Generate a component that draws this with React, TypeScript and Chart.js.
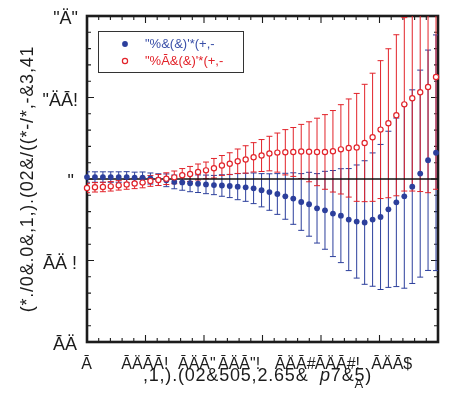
import React, { useEffect, useRef } from "react";
import { Chart, registerables } from "chart.js";

Chart.register(...registerables);

// Bin positions along x
const X_VALUES = [
  0, 0.00068, 0.00136, 0.00203, 0.00271, 0.00339, 0.00407, 0.00475, 0.00542, 0.0061,
  0.00678, 0.00746, 0.00814, 0.00881, 0.00949, 0.01017, 0.01085, 0.01153, 0.0122, 0.01288,
  0.01356, 0.01424, 0.01492, 0.01559, 0.01627, 0.01695, 0.01763, 0.01831, 0.01898, 0.01966,
  0.02034, 0.02102, 0.0217, 0.02237, 0.02305, 0.02373, 0.02441, 0.02509, 0.02576, 0.02644,
  0.02712, 0.0278, 0.02848, 0.02915, 0.02983,
];

// Filled-marker series
const BLUE_VALUES = [
  1.0012, 1.0012, 1.0012, 1.0012, 1.0012, 1.0012, 1.0009, 1.0009, 1.0003, 0.9996,
  0.9992, 0.9982, 0.9979, 0.9974, 0.9971, 0.9967, 0.9963, 0.996, 0.9957, 0.9953,
  0.9949, 0.9943, 0.9931, 0.992, 0.9908, 0.9894, 0.988, 0.9859, 0.9845, 0.982,
  0.9808, 0.9788, 0.9775, 0.9751, 0.9739, 0.9733, 0.9751, 0.9767, 0.9814, 0.9857,
  0.9894, 0.9953, 1.0033, 1.0115, 1.0161,
];
const BLUE_ERRORS = [
  0.0032, 0.0032, 0.0032, 0.0032, 0.0032, 0.0033, 0.0033, 0.0034, 0.0034, 0.0036,
  0.0039, 0.0042, 0.0048, 0.0052, 0.0054, 0.0057, 0.0059, 0.0066, 0.0071, 0.008,
  0.0086, 0.0094, 0.0102, 0.0112, 0.0125, 0.0141, 0.0158, 0.0174, 0.0196, 0.0213,
  0.0239, 0.0264, 0.0288, 0.0313, 0.0347, 0.0379, 0.0409, 0.0445, 0.0479, 0.0517,
  0.0564, 0.0594, 0.0635, 0.0676, 0.0723,
];

// Open-marker series
const RED_VALUES = [
  0.9945, 0.9949, 0.9951, 0.9955, 0.9961, 0.9967, 0.9972, 0.9978, 0.9988, 0.9994,
  1.0002, 1.001, 1.0023, 1.0031, 1.0043, 1.0053, 1.0066, 1.0083, 1.0094, 1.0109,
  1.012, 1.0133, 1.0144, 1.0156, 1.0162, 1.0164, 1.0166, 1.0169, 1.0167, 1.0166,
  1.0166, 1.017, 1.0182, 1.019, 1.0194, 1.0221, 1.0256, 1.0303, 1.0342, 1.0391,
  1.0458, 1.0495, 1.0532, 1.0564, 1.0626,
];
const RED_ERRORS = [
  0.0029, 0.0029, 0.0029, 0.0029, 0.0029, 0.003, 0.0031, 0.0032, 0.0033, 0.0034,
  0.0036, 0.0039, 0.0041, 0.0046, 0.0049, 0.0051, 0.006, 0.0061, 0.0067, 0.0075,
  0.0084, 0.009, 0.0098, 0.0106, 0.012, 0.0139, 0.015, 0.0166, 0.0184, 0.0207,
  0.0229, 0.025, 0.0274, 0.0301, 0.0331, 0.036, 0.0393, 0.0423, 0.0457, 0.0494,
  0.0532, 0.0569, 0.0609, 0.0648, 0.0689,
];

const X_TICK_VALUES = [0, 0.005, 0.01, 0.015, 0.02, 0.025, 0.03];
const X_TICK_LABELS = ["Ā", "ĀÄĀĀ!", 'ĀÄĀ"', 'ĀÄĀ"!', "ĀÄĀ#", "ĀÄĀ#!", "ĀÄĀ$"];
const Y_TICK_VALUES = [1.1, 1.05, 1, 0.95, 0.9];
const Y_TICK_LABELS = ['"Ä"', '"ÄĀ!', '"', "ĀÄ !", "ĀÄ"];
const SERIES_LABELS = ['"%&(&)\'*(+,-', '"%Ā&(&)\'*(+,-'];
const Y_TITLE = "(*./0&.0&,1,).(02&/((*-/*,-&3,41";
const X_TITLE = ",1,).(02&505,2.65&";
const X_TITLE_VAR = "p";
const X_TITLE_TAIL = "7&5)";
const X_TITLE_SUB = "A";

// Label placement tweaks (px) relative to each tick
const X_LABEL_SHIFT = [-5.7, -24.2, -26, -44.5, -46.3, -64.8, -66.7];
const Y_LABEL_SHIFT = [0, 0, -4, -1, -1];

const BLUE = "#2c3f9c";
const RED = "#e2232a";
const INK = "#1c1c1c";
const FONT = "'Liberation Sans', Arial, Helvetica, sans-serif";

function drawErrorBars(ctx: CanvasRenderingContext2D, chart: any, values: number[], errors: number[], color: string) {
  const xs = chart.scales.x;
  const ys = chart.scales.y;
  ctx.strokeStyle = color;
  ctx.lineWidth = 1;
  for (let i = 0; i < X_VALUES.length; i++) {
    const x = xs.getPixelForValue(X_VALUES[i]);
    const yTop = ys.getPixelForValue(values[i] + errors[i]);
    const yBot = ys.getPixelForValue(values[i] - errors[i]);
    ctx.beginPath();
    ctx.moveTo(x, yTop);
    ctx.lineTo(x, yBot);
    ctx.moveTo(x - 3, yTop);
    ctx.lineTo(x + 3, yTop);
    ctx.moveTo(x - 3, yBot);
    ctx.lineTo(x + 3, yBot);
    ctx.stroke();
  }
}

const decorPlugin = {
  id: "plotDecor",
  beforeDatasetsDraw(chart: any) {
    const { ctx, chartArea: a } = chart;
    const xs = chart.scales.x;
    const ys = chart.scales.y;
    ctx.save();

    // frame
    ctx.strokeStyle = INK;
    ctx.lineWidth = 2.6;
    ctx.strokeRect(a.left, a.top, a.right - a.left, a.bottom - a.top);

    // inward ticks on all four sides
    ctx.lineWidth = 1.1;
    ctx.beginPath();
    for (let k = 0; k <= 30; k++) {
      const x = xs.getPixelForValue(k * 0.001);
      const len = k % 5 === 0 ? 7 : 4;
      ctx.moveTo(x, a.bottom);
      ctx.lineTo(x, a.bottom - len);
      ctx.moveTo(x, a.top);
      ctx.lineTo(x, a.top + len);
    }
    for (let k = 0; k <= 20; k++) {
      const y = ys.getPixelForValue(0.9 + k * 0.01);
      const len = k % 5 === 0 ? 7 : 4;
      ctx.moveTo(a.left, y);
      ctx.lineTo(a.left + len, y);
      ctx.moveTo(a.right, y);
      ctx.lineTo(a.right - len, y);
    }
    ctx.stroke();

    // error bars, clipped to the plot area
    ctx.save();
    ctx.beginPath();
    ctx.rect(a.left, a.top, a.right - a.left, a.bottom - a.top);
    ctx.clip();
    drawErrorBars(ctx, chart, BLUE_VALUES, BLUE_ERRORS, BLUE);
    drawErrorBars(ctx, chart, RED_VALUES, RED_ERRORS, RED);
    ctx.restore();

    // reference line at unity
    const y1 = ys.getPixelForValue(1);
    ctx.strokeStyle = "#111";
    ctx.lineWidth = 1.3;
    ctx.beginPath();
    ctx.moveTo(a.left, y1);
    ctx.lineTo(a.right, y1);
    ctx.stroke();

    // tick labels
    ctx.fillStyle = INK;
    ctx.font = `16px ${FONT}`;
    ctx.textBaseline = "alphabetic";
    ctx.textAlign = "left";
    X_TICK_VALUES.forEach((v, i) => {
      ctx.fillText(X_TICK_LABELS[i], xs.getPixelForValue(v) + X_LABEL_SHIFT[i], a.bottom + 27);
    });
    ctx.font = `18px ${FONT}`;
    ctx.textAlign = "right";
    Y_TICK_VALUES.forEach((v, i) => {
      ctx.fillText(Y_TICK_LABELS[i], a.left - 9 + Y_LABEL_SHIFT[i], ys.getPixelForValue(v) + 8);
    });

    // axis titles
    (ctx as any).letterSpacing = "0.8px";
    ctx.font = `18px ${FONT}`;
    ctx.save();
    ctx.translate(28, (a.top + a.bottom) / 2);
    ctx.rotate(-Math.PI / 2);
    ctx.textAlign = "center";
    ctx.textBaseline = "middle";
    ctx.fillText(Y_TITLE, 0, 0);
    ctx.restore();

    ctx.textAlign = "left";
    const head = X_TITLE + "  ";
    ctx.font = `18px ${FONT}`;
    const wHead = ctx.measureText(head).width;
    ctx.font = `italic 18px ${FONT}`;
    const wVar = ctx.measureText(X_TITLE_VAR).width;
    ctx.font = `18px ${FONT}`;
    const wTail = ctx.measureText(X_TITLE_TAIL).width;
    const wPre = ctx.measureText(X_TITLE_TAIL.slice(0, 2)).width;
    const total = wHead + wVar + wTail;
    const x0 = (a.left + a.right) / 2 - 5 - total / 2;
    const base = a.bottom + 39;
    ctx.fillText(head, x0, base);
    ctx.font = `italic 18px ${FONT}`;
    ctx.fillText(X_TITLE_VAR, x0 + wHead, base);
    ctx.font = `18px ${FONT}`;
    ctx.fillText(X_TITLE_TAIL, x0 + wHead + wVar, base);
    (ctx as any).letterSpacing = "0px";
    ctx.font = `13px ${FONT}`;
    ctx.fillText(X_TITLE_SUB, x0 + wHead + wVar + wPre, base + 7);

    ctx.restore();
  },
  afterDraw(chart: any) {
    const { ctx, chartArea: a } = chart;
    ctx.save();
    const bx = a.left + 11.5;
    const by = a.top + 15.5;
    ctx.fillStyle = "#fff";
    ctx.fillRect(bx, by, 145, 41);
    ctx.strokeStyle = "#333";
    ctx.lineWidth = 1;
    ctx.strokeRect(bx, by, 145, 41);

    ctx.beginPath();
    ctx.arc(bx + 26.5, by + 12.5, 2.9, 0, Math.PI * 2);
    ctx.fillStyle = BLUE;
    ctx.fill();

    ctx.beginPath();
    ctx.arc(bx + 26.5, by + 29.5, 2.6, 0, Math.PI * 2);
    ctx.fillStyle = "#fff";
    ctx.fill();
    ctx.strokeStyle = RED;
    ctx.lineWidth = 1.2;
    ctx.stroke();

    ctx.font = `13px ${FONT}`;
    ctx.textAlign = "left";
    ctx.textBaseline = "middle";
    ctx.fillStyle = "#3a4fa8";
    ctx.fillText(SERIES_LABELS[0], bx + 46.5, by + 13);
    ctx.fillStyle = RED;
    ctx.fillText(SERIES_LABELS[1], bx + 46.5, by + 30);
    ctx.restore();
  },
};

export default function App() {
  const canvasRef = useRef<HTMLCanvasElement | null>(null);

  useEffect(() => {
    const canvas = canvasRef.current;
    if (!canvas) return;
    const chart = new Chart(canvas, {
      type: "scatter",
      data: {
        datasets: [
          {
            label: SERIES_LABELS[0],
            data: X_VALUES.map((x, i) => ({ x, y: BLUE_VALUES[i] })),
            pointRadius: 2.9,
            pointBackgroundColor: BLUE,
            pointBorderColor: BLUE,
            pointBorderWidth: 0,
            order: 2,
            clip: false,
          },
          {
            label: SERIES_LABELS[1],
            data: X_VALUES.map((x, i) => ({ x, y: RED_VALUES[i] })),
            pointRadius: 2.6,
            pointBackgroundColor: "#fff",
            pointBorderColor: RED,
            pointBorderWidth: 1.2,
            order: 1,
            clip: false,
          },
        ],
      },
      options: {
        responsive: false,
        animation: false,
        devicePixelRatio: 1,
        events: [],
        layout: { padding: { left: 87, top: 16, right: 31, bottom: 64 } },
        scales: {
          x: { type: "linear", min: 0, max: 0.03, display: false },
          y: { type: "linear", min: 0.9, max: 1.1, display: false },
        },
        plugins: { legend: { display: false }, tooltip: { enabled: false } },
      },
      plugins: [decorPlugin],
    } as any);
    return () => chart.destroy();
  }, []);

  return (
    <div style={{ position: "fixed", left: 0, top: 0, width: 469, height: 406, background: "#fff" }}>
      <canvas ref={canvasRef} width={469} height={406} style={{ display: "block" }} />
    </div>
  );
}
